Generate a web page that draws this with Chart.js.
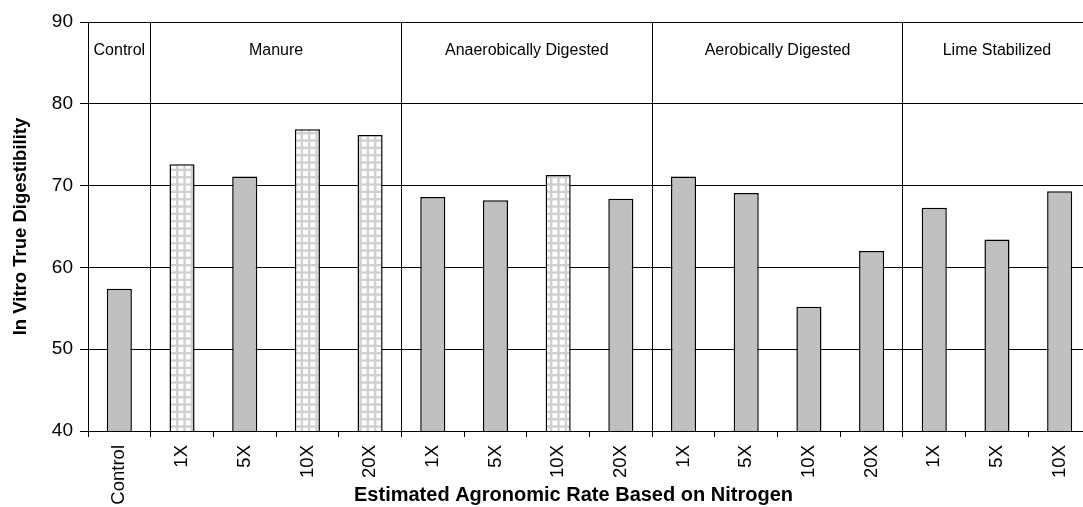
<!DOCTYPE html>
<html>
<head>
<meta charset="utf-8">
<script src="https://cdn.jsdelivr.net/npm/chart.js@4/dist/chart.umd.min.js"></script>
<style>
html,body{margin:0;padding:0;background:#fff;overflow:hidden;}
#wrap{width:1091px;height:507px;}
</style>
</head>
<body>
<div id="wrap"><canvas id="c" width="1091" height="507"></canvas></div>
<script>
const categories = ['Control','1X','5X','10X','20X','1X','5X','10X','20X','1X','5X','10X','20X','1X','5X','10X'];
const digestibility = [57.4,72.6,71.1,76.9,76.2,68.6,68.2,71.3,68.4,71.1,69.1,55.2,62.0,67.3,63.4,69.3];
const patterned = [false,true,false,true,true,false,false,true,false,false,false,false,false,false,false,false];
const groupNames = ['Control','Manure','Anaerobically Digested','Aerobically Digested','Lime Stabilized'];
const groupSizes = [1,4,4,4,3];
const yTicks = [40,50,60,70,80,90];
const yTitle = 'In Vitro True Digestibility';
const xTitle = 'Estimated Agronomic Rate Based on Nitrogen';

const FONT = 'Arial, "Liberation Sans", sans-serif';

const groupStarts = [];
{ let s = 0; for (const n of groupSizes) { groupStarts.push(s); s += n; } }
const boundaries = groupStarts.slice(1);

function makeGridPattern() {
  const size = 22, cell = size / 3, lw = 2.4;
  const c = document.createElement('canvas');
  c.width = size; c.height = size;
  const g = c.getContext('2d');
  g.fillStyle = '#ffffff'; g.fillRect(0, 0, size, size);
  g.fillStyle = '#cfcfcf';
  for (let k = 0; k < 3; k++) {
    g.fillRect(0, k * cell, size, lw);
    g.fillRect(k * cell, 0, lw, size);
  }
  return g.createPattern(c, 'repeat');
}
const gridPattern = makeGridPattern();
const barColors = patterned.map(p => p ? gridPattern : '#c0c0c0');

const groupLabelPlugin = {
  id: 'groupLabels',
  afterDatasetsDraw(chart) {
    const x = chart.scales.x, area = chart.chartArea, ctx = chart.ctx;
    const n = categories.length;
    const step = x.getPixelForValue(1) - x.getPixelForValue(0);
    const edge = i => {
      if (i <= 0) return area.left;
      if (i >= n) return x.getPixelForValue(n - 1) + step / 2;
      return (x.getPixelForValue(i - 1) + x.getPixelForValue(i)) / 2;
    };
    ctx.save();
    ctx.font = '16px ' + FONT;
    ctx.fillStyle = '#000';
    ctx.textAlign = 'center';
    ctx.textBaseline = 'middle';
    groupNames.forEach((name, gi) => {
      const s = groupStarts[gi], e = s + groupSizes[gi];
      ctx.fillText(name, (edge(s) + edge(e)) / 2, area.top + 29);
    });
    // x-axis title (centred on the whole chart figure, as in the original)
    ctx.font = 'bold 20px ' + FONT;
    ctx.fillText(xTitle, (area.left + area.right) / 2 - 16, chart.height - 12);
    ctx.restore();
  }
};

new Chart(document.getElementById('c'), {
  type: 'bar',
  data: {
    labels: categories,
    datasets: [{
      data: digestibility,
      backgroundColor: barColors,
      borderColor: '#000',
      borderWidth: 1.5,
      barPercentage: 0.4,
      categoryPercentage: 1.0
    }]
  },
  options: {
    responsive: false,
    animation: false,
    devicePixelRatio: 1,
    layout: { padding: { top: 22, left: 0, right: 0, bottom: 0 } },
    plugins: { legend: { display: false }, tooltip: { enabled: false } },
    scales: {
      x: {
        offset: true,
        grid: {
          offset: true,
          drawOnChartArea: true,
          color: c => boundaries.includes(c.index) ? '#000' : 'rgba(0,0,0,0)',
          tickColor: '#000',
          tickLength: 6,
          lineWidth: 1
        },
        border: { color: '#000', width: 1 },
        ticks: {
          color: '#000',
          font: { family: FONT, size: 18.5 },
          minRotation: 90,
          maxRotation: 90,
          autoSkip: false,
          padding: 8
        },
        afterFit: s => { s.height = 76; }
      },
      y: {
        min: 40,
        max: 90,
        afterBuildTicks: s => { s.ticks = yTicks.map(v => ({ value: v })); },
        grid: { color: '#000', tickColor: '#000', tickLength: 8, lineWidth: 1 },
        border: { color: '#000', width: 1 },
        ticks: {
          color: '#000',
          font: { family: FONT, size: 19 },
          padding: 7
        },
        title: {
          display: true,
          text: yTitle,
          color: '#000',
          font: { family: FONT, size: 18.5, weight: 'bold' },
          padding: { top: 10, bottom: 0 }
        },
        afterFit: s => { s.width = 88; }
      }
    }
  },
  plugins: [groupLabelPlugin]
});
</script>
</body>
</html>
